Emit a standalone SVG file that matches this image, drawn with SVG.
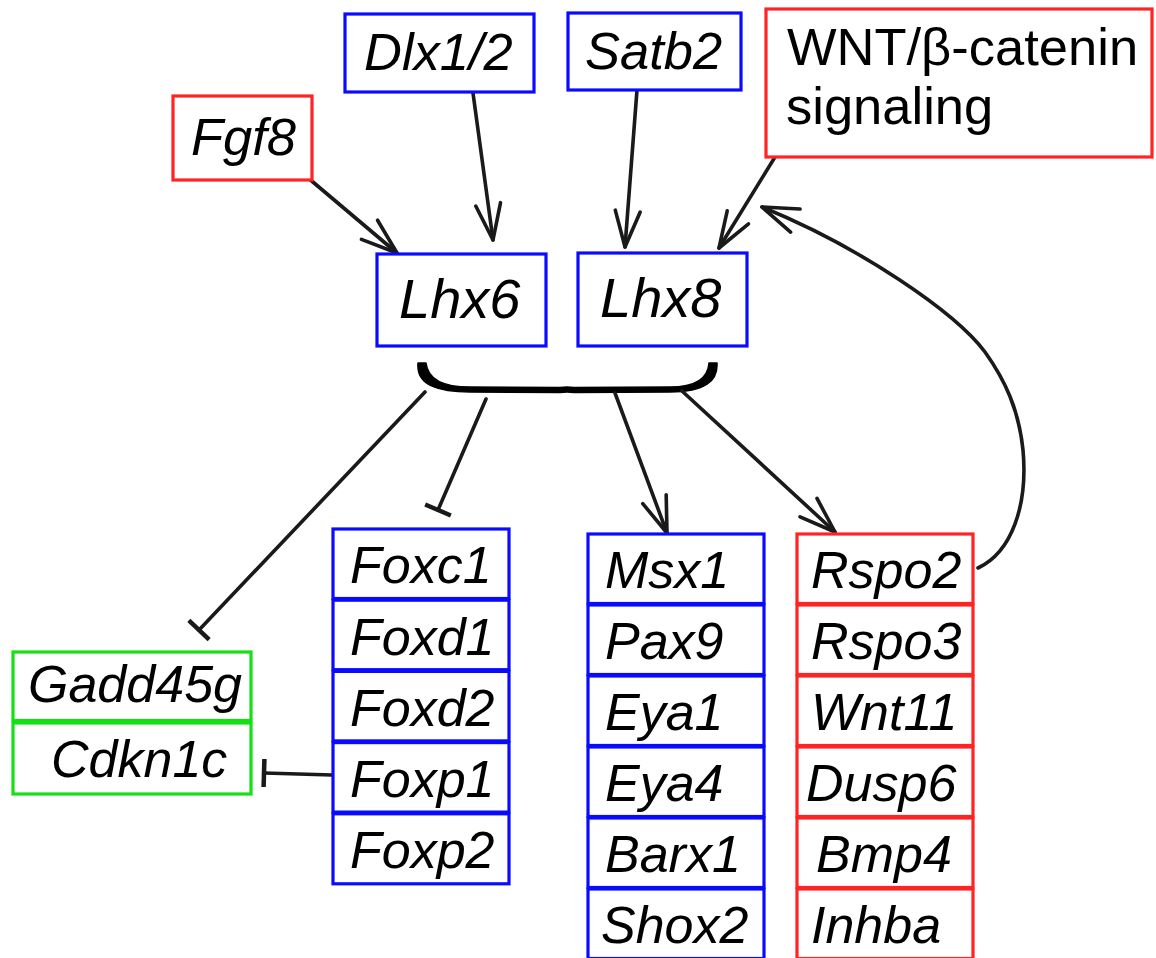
<svg xmlns="http://www.w3.org/2000/svg" width="1156" height="958" viewBox="0 0 1156 958">
<style>
.bg{fill:#ffffff}
.b{fill:#ffffff;stroke:#0a0aff;stroke-width:3.2}
.r{fill:#ffffff;stroke:#ff2424;stroke-width:3.2}
.g{fill:#ffffff;stroke:#14e014;stroke-width:3.2}
.t{font-family:"Liberation Sans",Arial,sans-serif;font-style:italic;font-size:52px;fill:#000000}
.tt{font-family:"Liberation Sans",Arial,sans-serif;font-style:italic;font-size:52.5px;fill:#000000}
.tl{font-family:"Liberation Sans",Arial,sans-serif;font-style:italic;font-size:56px;fill:#000000}
.tn{font-family:"Liberation Sans",Arial,sans-serif;font-size:52.5px;fill:#000000}
.c{fill:none;stroke:#1a1a1a;stroke-width:3.6;stroke-linecap:round}
</style>
<defs>
<marker id="arr" markerUnits="userSpaceOnUse" orient="auto" overflow="visible" refX="0" refY="0" markerWidth="1" markerHeight="1">
<path d="M-36,-12.5 L0,0 L-36,12.5" fill="none" stroke="#1a1a1a" stroke-width="3.6" stroke-linejoin="round" stroke-linecap="round"/>
</marker>
<marker id="bar" markerUnits="userSpaceOnUse" orient="auto" overflow="visible" refX="0" refY="0" markerWidth="1" markerHeight="1">
<path d="M0,-14 L0,14" fill="none" stroke="#1a1a1a" stroke-width="4.5"/>
</marker>
</defs>
<rect class="bg" x="0" y="0" width="1156" height="958"/>

<g id="connectors">
<line class="c" x1="307" y1="177" x2="397" y2="253" marker-end="url(#arr)"/>
<line class="c" x1="473" y1="93" x2="493" y2="240" marker-end="url(#arr)"/>
<line class="c" x1="637" y1="90" x2="625" y2="247" marker-end="url(#arr)"/>
<line class="c" x1="775" y1="157" x2="719" y2="248" marker-end="url(#arr)"/>
<path id="brace" d="M418,363 C416,386 440,392 470,392 L560,392.5 Q567,391.5 574,392.5 L670,392 C705,392 718,381 717,363 L709,363 C708,379 695,387 670,387 L574,387.5 Q567,386.5 560,387.5 L470,387 C446,387 428,381 426,363 Z" fill="#000000" stroke="#000000" stroke-width="1.5" stroke-linejoin="round"/>
<line class="c" x1="425" y1="392" x2="199" y2="630" marker-end="url(#bar)"/>
<line class="c" x1="486" y1="399" x2="438" y2="510" marker-end="url(#bar)"/>
<line class="c" x1="615" y1="393" x2="667" y2="533" marker-end="url(#arr)"/>
<line class="c" x1="682" y1="391" x2="835" y2="532" marker-end="url(#arr)"/>
<line class="c" x1="332" y1="775" x2="264" y2="773" marker-end="url(#bar)"/>
<path class="c" d="M978,568 C1012,552 1028,505 1023,450 C1019,410 1005,380 985,352 C955,312 860,247 762,207" marker-end="url(#arr)"/>
</g>

<g id="node-fgf8"><rect class="r" x="173" y="96" width="139" height="84"/><text class="tt" x="191" y="155">Fgf8</text></g>
<g id="node-dlx12"><rect class="b" x="345" y="14" width="189" height="78"/><text class="tt" x="364" y="70">Dlx1/2</text></g>
<g id="node-satb2"><rect class="b" x="568" y="13" width="173" height="77"/><text class="tt" x="585" y="69">Satb2</text></g>
<g id="node-wnt"><rect class="r" x="766" y="9" width="386" height="148"/><text class="tn" x="787" y="65">WNT/β-catenin</text><text class="tn" x="786" y="124">signaling</text></g>
<g id="node-lhx6"><rect class="b" x="377" y="254" width="169" height="92"/><text class="tl" x="399" y="318">Lhx6</text></g>
<g id="node-lhx8"><rect class="b" x="578" y="253" width="169" height="93"/><text class="tl" x="600" y="317">Lhx8</text></g>

<g id="node-gadd45g"><rect class="g" x="13" y="652" width="238" height="68.5"/><text class="t" x="28" y="702">Gadd45g</text></g>
<g id="node-cdkn1c"><rect class="g" x="13" y="723" width="238" height="71"/><text class="t" x="51" y="777">Cdkn1c</text></g>

<g id="node-foxc1"><rect class="b" x="333" y="529" width="176" height="69.5"/><text class="t" x="350" y="583">Foxc1</text></g>
<g id="node-foxd1"><rect class="b" x="333" y="600.2" width="176" height="69.5"/><text class="t" x="350" y="654.5">Foxd1</text></g>
<g id="node-foxd2"><rect class="b" x="333" y="671.4" width="176" height="69.5"/><text class="t" x="350" y="725.5">Foxd2</text></g>
<g id="node-foxp1"><rect class="b" x="333" y="742.6" width="176" height="69.5"/><text class="t" x="350" y="797">Foxp1</text></g>
<g id="node-foxp2"><rect class="b" x="333" y="813.8" width="176" height="70"/><text class="t" x="350" y="868">Foxp2</text></g>

<g id="node-msx1"><rect class="b" x="588" y="534" width="176" height="69.5"/><text class="t" x="605" y="588">Msx1</text></g>
<g id="node-pax9"><rect class="b" x="588" y="605" width="176" height="69.5"/><text class="t" x="605" y="659">Pax9</text></g>
<g id="node-eya1"><rect class="b" x="588" y="676" width="176" height="69.5"/><text class="t" x="605" y="730">Eya1</text></g>
<g id="node-eya4"><rect class="b" x="588" y="747" width="176" height="69.5"/><text class="t" x="605" y="801">Eya4</text></g>
<g id="node-barx1"><rect class="b" x="588" y="818" width="176" height="69.5"/><text class="t" x="605" y="872">Barx1</text></g>
<g id="node-shox2"><rect class="b" x="588" y="889" width="176" height="69.5"/><text class="t" x="601" y="943">Shox2</text></g>

<g id="node-rspo2"><rect class="r" x="797" y="534" width="176" height="69.5"/><text class="t" x="811" y="588">Rspo2</text></g>
<g id="node-rspo3"><rect class="r" x="797" y="605" width="176" height="69.5"/><text class="t" x="811" y="659">Rspo3</text></g>
<g id="node-wnt11"><rect class="r" x="797" y="676" width="176" height="69.5"/><text class="t" x="811" y="730">Wnt11</text></g>
<g id="node-dusp6"><rect class="r" x="797" y="747" width="176" height="69.5"/><text class="t" x="806" y="801">Dusp6</text></g>
<g id="node-bmp4"><rect class="r" x="797" y="818" width="176" height="69.5"/><text class="t" x="816" y="872">Bmp4</text></g>
<g id="node-inhba"><rect class="r" x="797" y="889" width="176" height="69.5"/><text class="t" x="811" y="943">Inhba</text></g>
</svg>
